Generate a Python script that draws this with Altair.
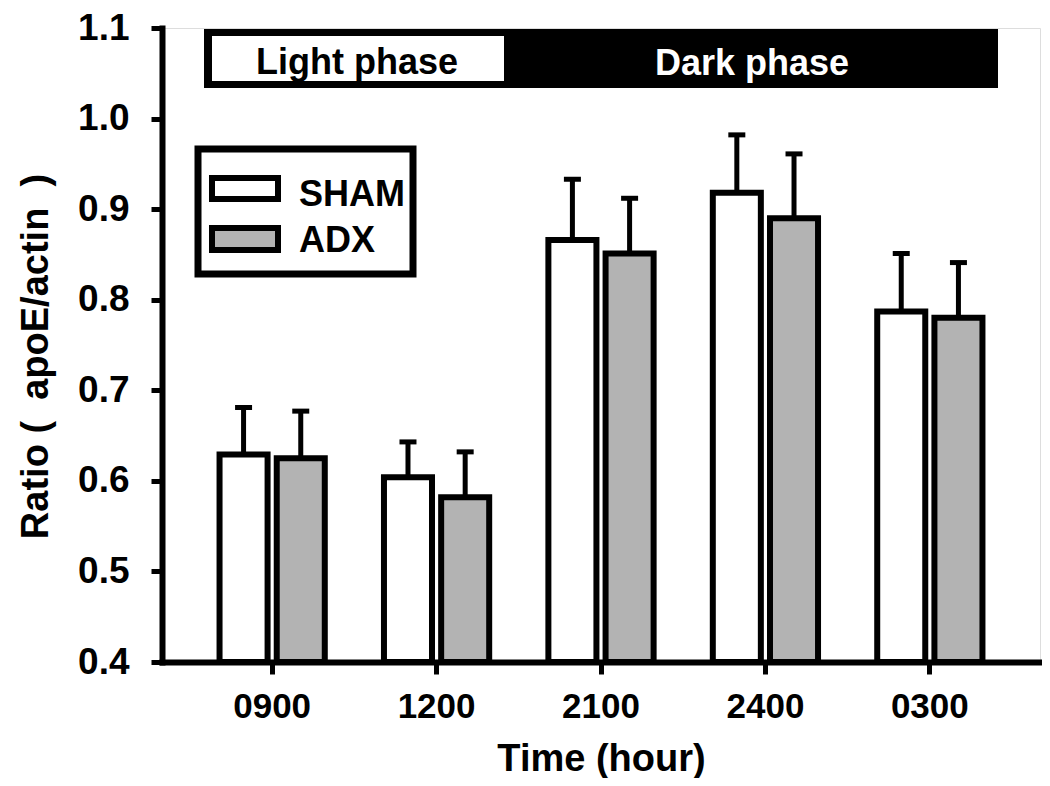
import altair as alt
import pandas as pd

# ---- data ----
times = ["0900", "1200", "2100", "2400", "0300"]
groups = ["SHAM", "ADX"]
sham_mean = [0.629, 0.604, 0.866, 0.918, 0.787]
sham_err = [0.052, 0.039, 0.067, 0.064, 0.064]
adx_mean = [0.625, 0.582, 0.851, 0.890, 0.780]
adx_err = [0.052, 0.050, 0.061, 0.071, 0.061]
group_fill = ["#ffffff", "#b3b3b3"]
y_ticks = [0.4, 0.5, 0.6, 0.7, 0.8, 0.9, 1.0, 1.1]
phase_labels = ["Light phase", "Dark phase"]
x_title = "Time (hour)"
NB = "\u00a0"
y_title = "Ratio (" + NB * 2 + "apoE/actin" + NB * 2 + ")"

rows = []
for i, t in enumerate(times):
    rows.append(dict(time=t, group=groups[0], mean=sham_mean[i],
                     upper=sham_mean[i] + sham_err[i], base=y_ticks[0]))
    rows.append(dict(time=t, group=groups[1], mean=adx_mean[i],
                     upper=adx_mean[i] + adx_err[i], base=y_ticks[0]))
df = pd.DataFrame(rows)

W, H = 878, 634
FONT = "Liberation Sans"

x_enc = alt.X(
    "time:N", sort=times,
    scale=alt.Scale(paddingInner=0.36, paddingOuter=0.35),
    axis=alt.Axis(
        title=x_title, labelAngle=0, labelFont=FONT, labelFontSize=35,
        labelFontWeight="bold", labelColor="black", labelPadding=15,
        tickSize=12, tickWidth=5, tickColor="black",
        domainColor="black", domainWidth=6, domainCap="square",
        titleFont=FONT, titleFontSize=38, titleFontWeight="bold",
        titleColor="black", titleX=W / 2, titleY=108,
        titleAlign="center", titleBaseline="alphabetic", grid=False,
    ),
)
xoff = alt.XOffset("group:N", sort=groups,
                   scale=alt.Scale(paddingInner=0.16, paddingOuter=0))
y_scale = alt.Scale(domain=[y_ticks[0], y_ticks[-1]], zero=False, nice=False)
y_enc = alt.Y(
    "mean:Q", scale=y_scale,
    axis=alt.Axis(
        values=y_ticks, format=".1f", title=y_title,
        labelFont=FONT, labelFontSize=37, labelFontWeight="bold",
        labelColor="black", labelPadding=22,
        tickSize=11, tickWidth=5, tickColor="black",
        domainColor="black", domainWidth=6, domainCap="square",
        titleFont=FONT, titleFontSize=38, titleFontWeight="bold",
        titleColor="black", titleAngle=270, titleX=-126, titleY=328,
        titleAlign="center", titleBaseline="middle", grid=False,
    ),
)

base = alt.Chart(df)
rules = base.mark_rule(color="black", strokeWidth=5, opacity=1).encode(
    x=x_enc, xOffset=xoff, y=y_enc, y2="upper:Q")
caps = base.mark_tick(color="black", size=17, thickness=5, opacity=1).encode(
    x=x_enc, xOffset=xoff, y=alt.Y("upper:Q", scale=y_scale))
bars = base.mark_bar(stroke="black", strokeWidth=6, strokeJoin="miter",
                     opacity=1).encode(
    x=x_enc, xOffset=xoff, y=y_enc, y2="base:Q",
    fill=alt.Fill("group:N", scale=alt.Scale(domain=groups, range=group_fill),
                  legend=None),
)

one = pd.DataFrame({"a": [0]})
ann = alt.Chart(one)

phase_black = ann.mark_rect(fill="black").encode(
    x=alt.value(42), x2=alt.value(836), y=alt.value(1), y2=alt.value(60))
phase_white = ann.mark_rect(fill="white").encode(
    x=alt.value(50), x2=alt.value(342), y=alt.value(8), y2=alt.value(53))
light_txt = ann.mark_text(font=FONT, fontSize=36, fontWeight="bold",
                          color="black", align="center", baseline="alphabetic").encode(
    x=alt.value(195), y=alt.value(46), text=alt.value(phase_labels[0]))
dark_txt = ann.mark_text(font=FONT, fontSize=36, fontWeight="bold",
                         color="white", align="center", baseline="alphabetic").encode(
    x=alt.value(590), y=alt.value(47), text=alt.value(phase_labels[1]))

legend_box = ann.mark_rect(fill="white", stroke="black", strokeWidth=7).encode(
    x=alt.value(36), x2=alt.value(251), y=alt.value(121), y2=alt.value(246))
legend_layers = [legend_box]
sw_y = [(150, 171, 178), (200, 222, 224)]
for g, col, (y0, y1, yt) in zip(groups, group_fill, sw_y):
    legend_layers.append(ann.mark_rect(fill=col, stroke="black", strokeWidth=6).encode(
        x=alt.value(50), x2=alt.value(116), y=alt.value(y0), y2=alt.value(y1)))
    legend_layers.append(ann.mark_text(font=FONT, fontSize=36, fontWeight="bold",
                                       color="black", align="left",
                                       baseline="alphabetic").encode(
        x=alt.value(137), y=alt.value(yt), text=alt.value(g)))

chart = alt.layer(
    rules, caps, bars, phase_black, phase_white, light_txt, dark_txt,
    *legend_layers
).properties(
    width=W, height=H,
    autosize=alt.AutoSizeParams(type="none"),
    padding={"left": 154, "top": 20, "right": 2, "bottom": 116},
).configure_view(stroke=None).configure(font=FONT)

chart.save("out.html", embed_options={"renderer": "svg", "actions": False})
